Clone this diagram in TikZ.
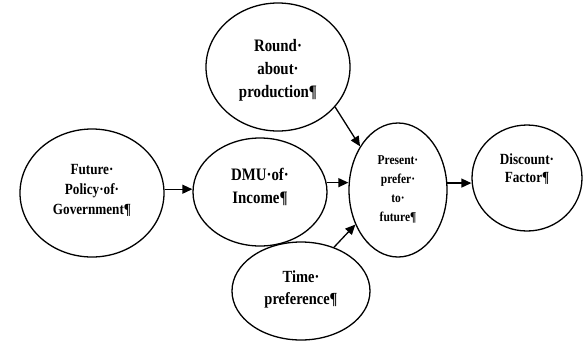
\documentclass[tikz,border=0pt]{standalone}
\usepackage{fontspec}
\setmainfont{Liberation Serif}[FakeStretch=0.85]
\usetikzlibrary{shapes.geometric,arrows.meta}
\begin{document}
\begin{tikzpicture}[x=1pt,y=-1pt,
  bub/.style={draw,line width=1.3pt,ellipse,inner sep=0pt},
  lbl/.style={align=center,inner sep=0pt,font=\bfseries\fontsize{#1}{#1*1.33}\selectfont},
  arr/.style={line width=1.3pt,-{Triangle[length=10pt,width=9pt]}}]
\useasboundingbox (0,0) rectangle (583,341);
% ellipses
\node[bub,minimum width=144pt,minimum height=128pt] (fut) at (92,193) {};
\node[bub,minimum width=134pt,minimum height=108pt] (dmu) at (260,192) {};
\node[bub,minimum width=144pt,minimum height=128pt] (rnd) at (278,67) {};
\node[bub,minimum width=98pt,minimum height=134pt] (pre) at (398,190) {};
\node[bub,minimum width=110pt,minimum height=106pt] (dis) at (527,178) {};
\node[bub,minimum width=138pt,minimum height=98pt] (tim) at (301,291) {};
% labels
\node[lbl=15.5,font=\bfseries\fontsize{15.5}{20}\selectfont] (tfut) at (92,190) {Future·\\Policy·of·\\Government¶};
\node[lbl=17.5,font=\bfseries\fontsize{17.5}{23}\selectfont] (tdmu) at (260,187) {DMU·of·\\Income¶};
\node[lbl=17.5,font=\bfseries\fontsize{17.5}{23}\selectfont] (trnd) at (278,70) {Round·\\about·\\production¶};
\node[lbl=13.5,font=\bfseries\fontsize{13.5}{19}\selectfont] (tpre) at (398,189) {Present·\\prefer·\\to·\\future¶};
\node[lbl=15.5,font=\bfseries\fontsize{15.5}{18.5}\selectfont] (tdis) at (527,169) {Discount·\\Factor¶};
\node[lbl=17,font=\bfseries\fontsize{17}{22}\selectfont] (ttim) at (301,289) {Time·\\preference¶};
% connectors
\draw[arr] (fut.3) -- (fut.3 -| dmu.west);
\draw[arr] (dmu.8) -- (dmu.8 -| pre.west);
\draw[arr] (rnd.-35) -- (pre.131);
\draw[arr] (tim.53) -- (pre.219);
\draw[arr] (pre.8) -- (pre.8 -| dis.west);
\end{tikzpicture}
\end{document}
